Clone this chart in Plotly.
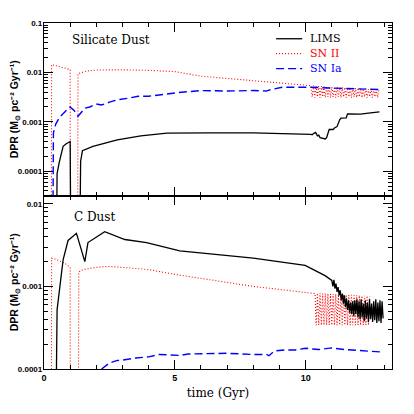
import plotly.graph_objects as go

# ==========================================
# DATOS — tasas de producción de polvo (DPR)
# ==========================================
# valores < rango del eje = caída fuera del panel
OFF = 1e-6

# --- Panel superior: polvo de silicatos ---
sil_lims_t = [0.47, 0.50, 0.58, 0.73, 0.85, 1.00, 1.03, 1.36, 1.40, 1.47, 1.87, 2.30, 2.80,
              3.70, 4.70, 6.30, 8.00, 10.20, 10.25, 10.30, 10.38, 10.45, 10.50, 10.55, 10.65,
              10.75, 10.80, 10.85, 10.90, 11.05, 11.10, 11.20, 11.25, 11.30, 11.35, 11.55,
              11.60, 11.90, 12.00, 12.10, 12.40, 12.82]
sil_lims_v = [OFF, 0.00009, 0.00015, 0.00032, 0.00036, 0.00040, OFF, OFF, 0.00016, 0.00026,
              0.00032, 0.00037, 0.00043, 0.00052, 0.00059, 0.00060, 0.00060, 0.00056, 0.00055,
              0.00058, 0.00061, 0.00052, 0.00054, 0.00048, 0.00046, 0.00045, 0.00048, 0.00062,
              0.00070, 0.00070, 0.00075, 0.00080, 0.00100, 0.00110, 0.00119, 0.00120, 0.00145,
              0.00145, 0.00140, 0.00143, 0.00150, 0.00160]

sil_snii_t = [0.28, 0.29, 0.50, 0.80, 1.00, 1.01, 1.28, 1.30, 1.60, 2.00, 3.00, 4.00, 5.00,
              6.00, 8.00, 10.20,
              10.25, 10.30, 10.35, 10.40, 10.45, 10.50, 10.55, 10.60, 10.65, 10.70, 10.75,
              10.80, 10.85, 10.90, 10.95, 11.00, 11.05, 11.10, 11.15, 11.20, 11.25, 11.30,
              11.35, 11.40, 11.45, 11.50, 11.55, 11.60, 11.65, 11.70, 11.75, 11.80, 11.85,
              11.90, 11.95, 12.00, 12.05, 12.10, 12.15, 12.20, 12.25, 12.30, 12.35, 12.40,
              12.45, 12.50, 12.55, 12.60, 12.65, 12.70, 12.75, 12.80]
sil_snii_v = [OFF, 0.0144, 0.0135, 0.0124, 0.0114, OFF, OFF, 0.0094, 0.0106, 0.0112, 0.0113,
              0.0110, 0.0104, 0.0084, 0.0068, 0.0054,
              0.0032, 0.0054, 0.0031, 0.0053, 0.0032, 0.0053, 0.0031, 0.0053, 0.0032, 0.0052,
              0.0031, 0.0052, 0.0032, 0.0052, 0.0031, 0.0051, 0.0032, 0.0051, 0.0031, 0.0051,
              0.0032, 0.0050, 0.0031, 0.0050, 0.0032, 0.0050, 0.0031, 0.0049, 0.0032, 0.0049,
              0.0031, 0.0049, 0.0032, 0.0048, 0.0031, 0.0048, 0.0032, 0.0048, 0.0031, 0.0047,
              0.0032, 0.0047, 0.0031, 0.0046, 0.0032, 0.0046, 0.0031, 0.0046, 0.0032, 0.0045,
              0.0031, 0.0045]

sil_snia_t = [0.33, 0.36, 0.45, 0.60, 0.85, 1.00, 1.15, 1.30, 1.57, 1.75, 2.00, 2.20, 2.50,
              2.80, 3.20, 3.60, 4.00, 4.40, 5.10, 6.00, 7.00, 8.00, 8.50, 8.60, 9.10, 10.20,
              10.60, 11.00, 11.50, 12.00, 12.50, 12.82]
sil_snia_v = [OFF, 0.00060, 0.00090, 0.00125, 0.00170, 0.00200, 0.00170, 0.00130, 0.00190,
              0.00200, 0.00230, 0.00220, 0.00250, 0.00280, 0.00300, 0.00330, 0.00330, 0.00350,
              0.00390, 0.00430, 0.00420, 0.00430, 0.00420, 0.00440, 0.00500, 0.00500, 0.00490,
              0.00480, 0.00470, 0.00460, 0.00455, 0.00450]

# --- Panel inferior: polvo de carbono ---
c_lims_t = [0.41, 0.50, 0.73, 0.92, 1.24, 1.56, 1.68, 2.32, 3.09, 3.92, 5.19, 6.34, 8.00,
            9.98, 10.74,
            11.00, 11.04, 11.08, 11.12, 11.16, 11.20, 11.24, 11.28, 11.32, 11.36, 11.40,
            11.44, 11.48, 11.52, 11.56, 11.60, 11.64, 11.68, 11.72, 11.76, 11.80, 11.84,
            11.88, 11.92, 11.96, 12.00, 12.04, 12.08, 12.12, 12.16, 12.20, 12.24, 12.28,
            12.32, 12.36, 12.40, 12.44, 12.48, 12.52, 12.56, 12.60, 12.64, 12.68, 12.72,
            12.76, 12.80, 12.84, 12.88, 12.92, 12.96]
c_lims_v = [OFF, 0.00052, 0.00210, 0.00360, 0.00440, 0.00200, 0.00340, 0.00460, 0.00370,
            0.00340, 0.00270, 0.00250, 0.00220, 0.00180, 0.00135,
            0.00118, 0.00100, 0.00120, 0.00094, 0.00108, 0.00086, 0.00098, 0.00078, 0.00090,
            0.00068, 0.00082, 0.00062, 0.00078, 0.00056, 0.00072, 0.00052, 0.00068, 0.00048,
            0.00064, 0.00046, 0.00066, 0.00044, 0.00068, 0.00046, 0.00070, 0.00042, 0.00066,
            0.00040, 0.00070, 0.00042, 0.00062, 0.00038, 0.00068, 0.00041, 0.00064, 0.00037,
            0.00070, 0.00040, 0.00062, 0.00037, 0.00066, 0.00039, 0.00070, 0.00036, 0.00064,
            0.00038, 0.00068, 0.00036, 0.00066, 0.00041]

c_snii_t = [0.28, 0.29, 0.50, 0.80, 1.00, 1.01, 1.30, 1.33, 1.50, 2.00, 2.50, 3.00, 4.00,
            5.00, 6.30, 8.00, 10.36,
            10.40, 10.45, 10.50, 10.55, 10.60, 10.65, 10.70, 10.75, 10.80, 10.85, 10.90,
            10.95, 11.00, 11.05, 11.10, 11.15, 11.20, 11.25, 11.30, 11.35, 11.40, 11.45,
            11.50, 11.55, 11.60, 11.65, 11.70, 11.75, 11.80, 11.85, 11.90, 11.95, 12.00,
            12.05, 12.10, 12.15, 12.20, 12.25, 12.30, 12.35, 12.40, 12.45]
c_snii_v = [OFF, 0.00220, 0.00210, 0.00190, 0.00170, OFF, OFF, 0.00150, 0.00160, 0.00170,
            0.00175, 0.00170, 0.00160, 0.00140, 0.00120, 0.00100, 0.00082,
            0.00034, 0.00083, 0.00034, 0.00083, 0.00034, 0.00082, 0.00034, 0.00082, 0.00034,
            0.00082, 0.00034, 0.00081, 0.00034, 0.00081, 0.00034, 0.00081, 0.00034, 0.00080,
            0.00034, 0.00080, 0.00034, 0.00080, 0.00034, 0.00079, 0.00034, 0.00079, 0.00034,
            0.00079, 0.00034, 0.00078, 0.00034, 0.00078, 0.00034, 0.00078, 0.00034, 0.00077,
            0.00034, 0.00077, 0.00034, 0.00077, 0.00034, 0.00076]

c_snia_t = [2.20, 2.30, 2.50, 2.80, 3.00, 3.50, 4.00, 4.40, 5.20, 5.50, 6.30, 7.00, 8.00,
            8.50, 8.60, 8.80, 9.20, 9.60, 10.00, 10.50, 11.00, 11.50, 12.00, 12.50, 12.97]
c_snia_v = [0.000100, 0.000105, 0.000118, 0.000127, 0.000128, 0.000136, 0.000140, 0.000150,
            0.000146, 0.000152, 0.000155, 0.000155, 0.000150, 0.000150, 0.000145, 0.000165,
            0.000170, 0.000170, 0.000178, 0.000172, 0.000180, 0.000172, 0.000168, 0.000163,
            0.000160]

panel_titles = ["Silicate Dust", "C Dust"]
legend_names = ["LIMS", "SN II", "SN Ia"]
y_top_ticks = [0.1, 0.01, 0.001, 0.0001]
y_bot_ticks = [0.01, 0.001, 0.0001]
x_ticks = [0, 5, 10]

# ==========================================
# ESTILOS
# ==========================================
C_LIMS, C_SNII, C_SNIA = "black", "#ff0000", "#0000ff"
ST_LIMS = dict(color=C_LIMS, width=1.3)
ST_SNII = dict(color=C_SNII, width=1.1, dash="1px,2px")
ST_SNIA = dict(color=C_SNIA, width=1.4, dash="8px,4px")
SERIF = "DejaVu Serif"
SANS = "Liberation Sans"
# superíndices unicode: no se salen por el borde izquierdo de la figura
YLABEL = "DPR (M<sub>⊙</sub> pc⁻² Gyr⁻¹)"


def minor_log(lo, hi):
    return [m * 10.0 ** e for e in range(lo, hi) for m in range(2, 10)]


fig = go.Figure()

for t, v, st, yax in [
    (sil_snii_t, sil_snii_v, ST_SNII, "y"),
    (sil_snia_t, sil_snia_v, ST_SNIA, "y"),
    (sil_lims_t, sil_lims_v, ST_LIMS, "y"),
    (c_snii_t, c_snii_v, ST_SNII, "y2"),
    (c_snia_t, c_snia_v, ST_SNIA, "y2"),
    (c_lims_t, c_lims_v, ST_LIMS, "y2"),
]:
    fig.add_trace(go.Scatter(x=t, y=v, mode="lines", line=st, xaxis="x" if yax == "y" else "x2",
                             yaxis=yax, showlegend=False, hoverinfo="skip"))

axis_common = dict(
    showline=True, linecolor="black", linewidth=1.3, mirror="allticks", automargin=False,
    ticks="inside", tickcolor="black", tickwidth=1, showgrid=False, zeroline=False,
)
tickfont = dict(family=SANS, size=8, color="black", weight="bold")

# la página añade 8 px de margen al cuerpo: la figura ocupa 406x406
fig.update_layout(
    width=406, height=406,
    margin=dict(l=36, r=22, t=15, b=45, autoexpand=False),
    paper_bgcolor="white", plot_bgcolor="white",
    xaxis=dict(**axis_common, domain=[0, 1], anchor="y", range=[0, 13.3],
               tickvals=x_ticks, ticklen=9, showticklabels=False,
               minor=dict(dtick=1, ticks="inside", ticklen=4, tickcolor="black")),
    xaxis2=dict(**axis_common, domain=[0, 1], anchor="y2", range=[0, 13.3],
                tickvals=x_ticks, ticktext=[str(x) for x in x_ticks], ticklen=9,
                tickfont=dict(family=SANS, size=9, color="black", weight="bold"),
                minor=dict(dtick=1, ticks="inside", ticklen=4, tickcolor="black"),
                title=dict(text="time (Gyr)", font=dict(family=SERIF, size=12, color="black"),
                           standoff=6)),
    yaxis=dict(**axis_common, type="log", domain=[0.5, 1], anchor="x", range=[-4.5, -1],
               tickvals=y_top_ticks, ticktext=[str(v) for v in y_top_ticks], ticklen=9,
               tickfont=tickfont, ticklabelstandoff=-1,
               minor=dict(tickvals=minor_log(-5, -1), ticks="inside", ticklen=4,
                          tickcolor="black")),
    yaxis2=dict(**axis_common, type="log", domain=[0, 0.5], anchor="x2", range=[-4, -1.905],
                tickvals=y_bot_ticks, ticktext=[str(v) for v in y_bot_ticks], ticklen=9,
                tickfont=tickfont, ticklabelstandoff=-1,
                minor=dict(tickvals=minor_log(-4, -1), ticks="inside", ticklen=4,
                           tickcolor="black")),
)

# ==========================================
# TEXTOS Y LEYENDA
# ==========================================
for yref in ["y domain", "y2 domain"]:
    fig.add_annotation(text=YLABEL, xref="paper", yref=yref, x=-0.084, y=0.5,
                       xanchor="center", yanchor="middle", textangle=-90, showarrow=False,
                       borderpad=0,
                       font=dict(family=SANS, size=10.5, color="black", weight="bold"))

fig.add_annotation(text=panel_titles[0], xref="x domain", yref="y domain", x=0.074, y=0.904,
                   xanchor="left", yanchor="middle", showarrow=False,
                   font=dict(family=SERIF, size=12, color="black"))
fig.add_annotation(text=panel_titles[1], xref="x2 domain", yref="y2 domain", x=0.08, y=0.876,
                   xanchor="left", yanchor="middle", showarrow=False,
                   font=dict(family=SERIF, size=12, color="black"))

for i, (name, st) in enumerate(zip(legend_names, [ST_LIMS, ST_SNII, ST_SNIA])):
    yy = [0.909, 0.823, 0.736][i]
    fig.add_shape(type="line", xref="x domain", yref="y domain", x0=0.667, x1=0.742,
                  y0=yy, y1=yy, line=st)
    fig.add_annotation(text=name, xref="x domain", yref="y domain", x=0.759, y=yy,
                       xanchor="left", yanchor="middle", showarrow=False,
                       font=dict(family=SERIF, size=11, color=st["color"]))

fig.write_html("out.html")
